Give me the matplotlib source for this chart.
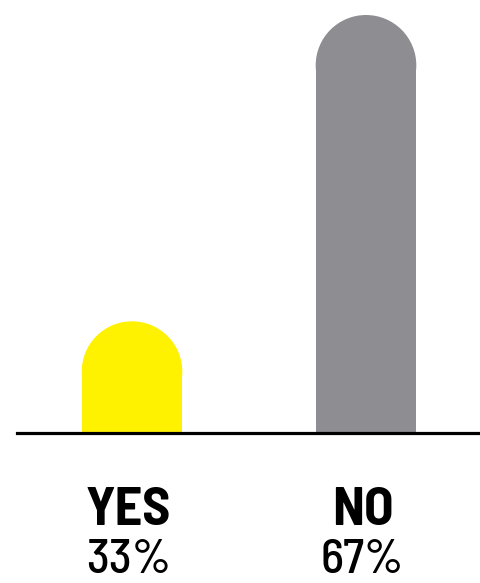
import matplotlib
matplotlib.use("Agg")
from matplotlib import pyplot as plt
from matplotlib.patches import Rectangle, Ellipse

# chart data
categories = ["YES", "NO"]
values = [33, 67]
colors = ["#fff200", "#8e8e92"]

W, H = 481, 583
fig = plt.figure(figsize=(W / 100, H / 100), dpi=100)

# axes spans the full width, baseline sits 150 px from the bottom
base_px = 150
ax = fig.add_axes([0, base_px / H, 1, 1 - base_px / H])
ax.set_axis_off()

y0 = 20.6
y1 = y0 + (67 - y0) * (H - base_px) / (H - base_px - 15)
ax.set_ylim(y0, y1)
ax.set_xlim(-132 / 234, (W - 132) / 234)

bar_w = 0.43
# y data units per pixel, so the top cap is a true half circle
y_per_px = (y1 - y0) / (H - base_px)
x_per_px = (ax.get_xlim()[1] - ax.get_xlim()[0]) / W
r_px = bar_w / x_per_px / 2
cap_h = 2 * r_px * y_per_px

for i, (val, col) in enumerate(zip(values, colors)):
    top = val - cap_h / 2
    ax.add_patch(Rectangle((i - bar_w / 2, 0), bar_w, top, color=col, lw=0))
    ax.add_patch(Ellipse((i, top), bar_w, cap_h, color=col, lw=0))

# baseline
ax.axhline(y0, xmin=17 / W, xmax=1, color="black", lw=2.3, clip_on=False, zorder=5)

trans = ax.get_xaxis_transform()
font = dict(family=["Barlow Semi Condensed", "DejaVu Sans"], ha="center")
for i, (cat, val) in enumerate(zip(categories, values)):
    ax.text(i - 0.015, (H - 525 - base_px) / (H - base_px), cat, transform=trans,
            fontweight=700, size=39, va="baseline", **font)
    # keep the full text box inside the figure
    ax.text(i - 0.015, (H - 582 - base_px) / (H - base_px), f"{val}%", transform=trans,
            fontweight=500, size=35, va="bottom", **font)

fig.savefig("out.png", dpi=100)
